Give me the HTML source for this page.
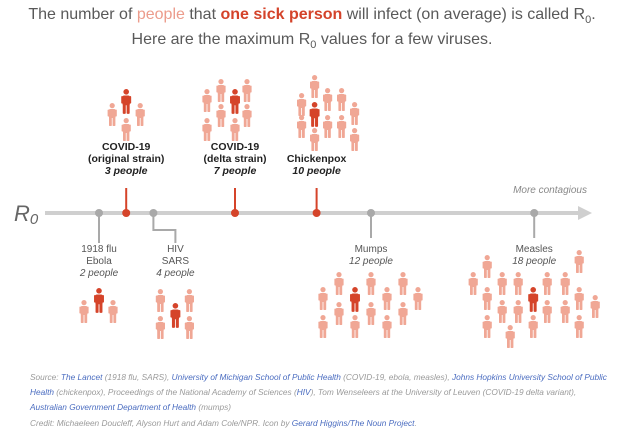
<!DOCTYPE html>
<html><head><meta charset="utf-8"><style>
html,body{margin:0;padding:0;background:#fff;}
body{width:624px;height:434px;overflow:hidden;position:relative;font-family:"Liberation Sans",sans-serif;}
.title{position:absolute;left:0;width:624px;text-align:center;font-size:16px;color:#595959;line-height:19px;}
.foot{position:absolute;left:30px;width:580px;font-size:8.3px;font-style:italic;color:#9a9a9a;line-height:15px;}
.foot a{color:#4a6cc0;text-decoration:none;}
</style></head><body>
<div class="title" style="top:5px;">The number of <span style="color:#ec9c8c">people</span> that <b style="color:#d4432a;font-weight:bold">one sick person</b> will infect (on average) is called R<sub style="font-size:11px">0</sub>.<br>Here are the maximum R<sub style="font-size:11px">0</sub> values for a few viruses.</div>
<svg id="chart" width="624" height="434" style="position:absolute;left:0;top:0" xmlns="http://www.w3.org/2000/svg"></svg>
<div class="foot" style="top:370px;">Source: <a>The Lancet</a> (1918 flu, SARS), <a>University of Michigan School of Public Health</a> (COVID-19, ebola, measles), <a>Johns Hopkins University School of Public Health</a> (chickenpox), Proceedings of the National Academy of Sciences (<a>HIV</a>), Tom Wenseleers at the University of Leuven (COVID-19 delta variant), <a>Australian Government Department of Health</a> (mumps)</div>
<div class="foot" style="top:416px;">Credit: Michaeleen Doucleff, Alyson Hurt and Adam Cole/NPR. Icon by <a>Gerard Higgins/The Noun Project</a>.</div>
<script>
const values=[2,3,4,7,10,12,18];
const names=[["1918 flu","Ebola"],["COVID-19","(original strain)"],["HIV","SARS"],["COVID-19","(delta strain)"],["Chickenpox"],["Mumps"],["Measles"]];
const peopleLabels=["2 people","3 people","4 people","7 people","10 people","12 people","18 people"];
const highlight=[false,true,false,true,true,false,false];
const NS="http://www.w3.org/2000/svg";
const svg=document.getElementById('chart');
const AXY=213;
function x(v){return 99+(v-2)*27.2;}
function mk(t,a,p){const e=document.createElementNS(NS,t);for(const k in a)e.setAttribute(k,a[k]);(p||svg).appendChild(e);return e;}
// axis
const ax=mk('line',{x1:45,y1:AXY,x2:582,y2:AXY,stroke:'#cfcfcf','stroke-width':4});


const ar=mk('path',{d:`M578 ${AXY-7} L592 ${AXY} L578 ${AXY+7} Z`,fill:'#cfcfcf'});


const r0=mk('text',{x:14,y:AXY+8,'font-size':22,'font-style':'italic',fill:'#666'});
r0.innerHTML='R<tspan font-size="15" dy="3">0</tspan>';


const mc=mk('text',{x:587,y:193,'font-size':10,'font-style':'italic',fill:'#888','text-anchor':'end'});
mc.textContent='More contagious';


// person icon
function person(cx,top,red){
  const g=mk('g',{transform:`translate(${cx},${top}) scale(${red?1.08:1})`,fill:red?'#d5442a':'#f0a795'});
  
  
  mk('circle',{cx:0,cy:2.6,r:2.6},g);
  mk('rect',{x:-3.4,y:6,width:6.8,height:9,rx:1.5},g);
  mk('rect',{x:-4.6,y:6.5,width:1.6,height:7,rx:0.8},g);
  mk('rect',{x:3,y:6.5,width:1.6,height:7,rx:0.8},g);
  mk('rect',{x:-3.2,y:13,width:2.8,height:10,rx:0.8},g);
  mk('rect',{x:0.4,y:13,width:2.8,height:10,rx:0.8},g);
}
// icon layouts (relative dx from group x, top y)
const layouts=[
 {r:[0,288],p:[[-15,300],[14,300]]},
 {r:[0,89],p:[[-14,103],[14,103],[0,118]]},
 {r:[22,303],p:[[7,289],[7,316],[36,289],[36,316]]},
 {r:[0,89],p:[[-28,89],[-28,118],[-14,79],[-14,104],[0,118],[12,79],[12,104]]},
 {r:[-2,102],p:[[-15,93],[-15,115],[-2,75],[-2,128],[11,88],[11,115],[25,88],[25,115],[38,102],[38,128]]},
 {r:[-16,287],p:[[-48,287],[-48,315],[-32,272],[-32,302],[-16,315],[0,272],[0,302],[16,287],[16,315],[32,272],[32,302],[47,287]]},
 {r:[-1,287],p:[[-61,272],[-47,255],[-47,287],[-47,315],[-32,272],[-32,300],[-16,272],[-16,300],[-1,315],[13,272],[13,300],[31,272],[31,300],[45,250],[45,287],[45,315],[61,295],[-24,325]]}
];
values.forEach((v,i)=>{
  const X=x(v);
  const up=highlight[i];
  const col=up?'#d5442a':'#a9a9a9';
  const g=mk('g',{});
  
  
  let lx=X, ly;
  if(up){
    mk('line',{x1:X,y1:188,x2:X,y2:AXY,stroke:col,'stroke-width':2},g);
    ly=174;
  } else if(v===4){
    mk('polyline',{points:`${X},${AXY} ${X},230 ${X+22},230 ${X+22},243`,fill:'none',stroke:col,'stroke-width':2},g);
    lx=X+22; ly=276;
  } else {
    const bot=(v===2)?243:238;
    mk('line',{x1:X,y1:AXY,x2:X,y2:bot,stroke:col,'stroke-width':2},g);
    ly=(v===2)?276:264;
  }
  mk('circle',{cx:X,cy:AXY,r:4,fill:col},g);
  const lines=names[i];
  const lab=mk('text',{x:lx,'text-anchor':'middle','font-size':up?10.5:10,fill:up?'#222':'#555','font-weight':up?'bold':'normal'});
  
  
  lines.forEach((t,k)=>{const s=mk('tspan',{x:lx,y:ly-12*(lines.length-k)},lab);s.textContent=t;});
  const pl=mk('text',{x:lx,y:ly,'text-anchor':'middle','font-size':up?10.5:10,'font-style':'italic',fill:up?'#222':'#555','font-weight':up?'bold':'normal'});
  pl.textContent=peopleLabels[i];
  
  
  const L=layouts[i];
  L.p.forEach(p=>person(X+p[0],p[1],false));
  person(X+L.r[0],L.r[1],true);
});
</script>
</body></html>
